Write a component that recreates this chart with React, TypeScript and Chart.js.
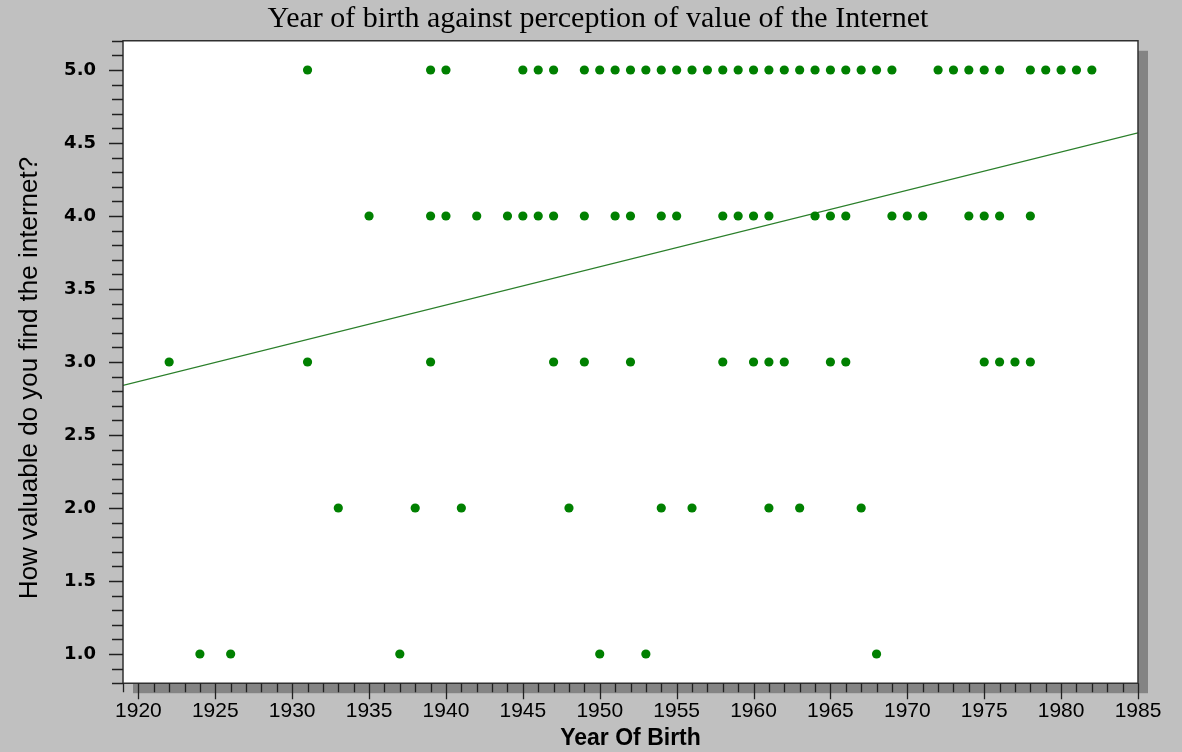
import React, { useEffect, useRef } from "react";
import { Chart, registerables } from "chart.js";

Chart.register(...registerables);

// Data
const YEARS_RATED_5 = [
  1931, 1939, 1940, 1945, 1946, 1947, 1949, 1950, 1951, 1952, 1953, 1954, 1955,
  1956, 1957, 1958, 1959, 1960, 1961, 1962, 1963, 1964, 1965, 1966, 1967, 1968,
  1969, 1972, 1973, 1974, 1975, 1976, 1978, 1979, 1980, 1981, 1982,
];
const YEARS_RATED_4 = [
  1935, 1939, 1940, 1942, 1944, 1945, 1946, 1947, 1949, 1951, 1952, 1954, 1955,
  1958, 1959, 1960, 1961, 1964, 1965, 1966, 1969, 1970, 1971, 1974, 1975, 1976,
  1978,
];
const YEARS_RATED_3 = [
  1922, 1931, 1939, 1947, 1949, 1952, 1958, 1960, 1961, 1962, 1965, 1966, 1975,
  1976, 1977, 1978,
];
const YEARS_RATED_2 = [1933, 1938, 1941, 1948, 1954, 1956, 1961, 1963, 1967];
const YEARS_RATED_1 = [1924, 1926, 1937, 1950, 1953, 1968];

const RATING_ROWS = [5, 4, 3, 2, 1];
const YEARS_BY_ROW = [YEARS_RATED_5, YEARS_RATED_4, YEARS_RATED_3, YEARS_RATED_2, YEARS_RATED_1];

// Fitted line end points
const TREND_X = [1919, 1985];
const TREND_Y = [2.84, 4.57];

// Axis tick labels
const X_TICK_LABELS = [1920, 1925, 1930, 1935, 1940, 1945, 1950, 1955, 1960, 1965, 1970, 1975, 1980, 1985];
const Y_TICK_LABELS = [1.0, 1.5, 2.0, 2.5, 3.0, 3.5, 4.0, 4.5, 5.0];

const X_MIN = 1919;
const X_MAX = 1985;
const Y_MIN = 0.8;
const Y_MAX = 5.2;

const TITLE = "Year of birth against perception of value of the Internet";
const X_TITLE = "Year Of Birth";
const Y_TITLE = "How valuable do you find the internet?";

const GREEN = "#008000";

const framePlugin = {
  id: "frame",
  beforeDraw(chart: any) {
    const { ctx, chartArea: a } = chart;
    ctx.save();
    ctx.fillStyle = "#c0c0c0";
    ctx.fillRect(0, 0, chart.width, chart.height);
    // shadow
    ctx.fillStyle = "#848484";
    ctx.fillRect(a.left + 10, a.top + 10, a.right - a.left, a.bottom - a.top);
    // plot area
    ctx.fillStyle = "#ffffff";
    ctx.fillRect(a.left, a.top, a.right - a.left, a.bottom - a.top);
    ctx.restore();
  },
  afterDraw(chart: any) {
    const { ctx, chartArea: a, scales } = chart;
    const xs = scales.x;
    const ys = scales.y;
    ctx.save();
    ctx.strokeStyle = "#303030";
    ctx.lineWidth = 1.5;
    ctx.beginPath();
    ctx.rect(a.left, a.top, a.right - a.left, a.bottom - a.top);
    ctx.stroke();
    ctx.lineWidth = 1.3;
    ctx.strokeStyle = "#202020";
    ctx.beginPath();
    for (let i = Math.round(Y_MIN * 10); i <= Math.round(Y_MAX * 10); i++) {
      const py = Math.round(ys.getPixelForValue(i / 10)) + 0.5;
      const len = i % 5 === 0 ? 14 : 11;
      ctx.moveTo(a.left - len, py);
      ctx.lineTo(a.left, py);
    }
    for (let yr = X_MIN; yr <= X_MAX; yr++) {
      const px = Math.round(xs.getPixelForValue(yr)) + 0.5;
      const len = yr % 5 === 0 ? 16 : 9;
      ctx.moveTo(px, a.bottom);
      ctx.lineTo(px, a.bottom + len);
    }
    ctx.stroke();
    // y-axis title, placed as in the reference
    ctx.translate(30, 378);
    ctx.rotate(-Math.PI / 2);
    ctx.fillStyle = "#000";
    ctx.font = "26px 'Liberation Sans', Arial, sans-serif";
    ctx.textAlign = "center";
    ctx.textBaseline = "middle";
    ctx.fillText(Y_TITLE, 0, 0);
    ctx.restore();
  },
};

export default function App() {
  const canvasRef = useRef<HTMLCanvasElement | null>(null);

  useEffect(() => {
    document.body.style.margin = "0";
    const points: { x: number; y: number }[] = [];
    RATING_ROWS.forEach((r, i) => {
      YEARS_BY_ROW[i].forEach((yr) => points.push({ x: yr, y: r }));
    });
    const trend = TREND_X.map((x, i) => ({ x, y: TREND_Y[i] }));

    const chart = new Chart(canvasRef.current as HTMLCanvasElement, {
      type: "scatter",
      data: {
        datasets: [
          {
            data: points,
            backgroundColor: GREEN,
            borderColor: GREEN,
            pointRadius: 4.6,
            pointHoverRadius: 4.6,
            borderWidth: 0,
            order: 0,
          } as any,
          {
            type: "line",
            data: trend,
            borderColor: "#2a7f2a",
            borderWidth: 1.2,
            pointRadius: 0,
            fill: false,
            tension: 0,
            order: 1,
          } as any,
        ],
      },
      options: {
        animation: false,
        responsive: false,
        layout: { padding: { left: 14, right: 0, top: 0, bottom: 0 } },
        plugins: {
          legend: { display: false },
          tooltip: { enabled: false },
          title: {
            display: true,
            text: TITLE,
            color: "#000",
            font: { family: "'Liberation Serif', 'Times New Roman', serif", size: 30, weight: "normal" },
            padding: { top: 1, bottom: 3.8 },
          },
        },
        scales: {
          x: {
            type: "linear",
            min: X_MIN,
            max: X_MAX,
            grid: { display: false, drawTicks: false },
            border: { display: false },
            afterBuildTicks: (s: any) => {
              s.ticks = X_TICK_LABELS.map((v) => ({ value: v }));
            },
            ticks: {
              autoSkip: false,
              maxRotation: 0,
              color: "#000",
              padding: 15,
              font: { family: "'Liberation Sans', Arial, sans-serif", size: 21 },
              callback: (v: any) => String(v),
            },
            title: {
              display: true,
              text: X_TITLE,
              color: "#000",
              font: { family: "'Liberation Sans', Arial, sans-serif", size: 23, weight: "bold" },
              padding: { top: 0, bottom: 0 },
            },
            afterFit: (s: any) => {
              s.height = 68.8;
            },
          },
          y: {
            type: "linear",
            min: Y_MIN,
            max: Y_MAX,
            grid: { display: false, drawTicks: false },
            border: { display: false },
            afterBuildTicks: (s: any) => {
              s.ticks = Y_TICK_LABELS.map((v) => ({ value: v }));
            },
            ticks: {
              autoSkip: false,
              color: "#000",
              padding: 27,
              font: { family: "'DejaVu Sans', sans-serif", size: 18, weight: "bold" },
              callback: (v: any) => Number(v).toFixed(1),
            },
            title: { display: false },
            afterFit: (s: any) => {
              s.width = 109;
            },
          },
          yRight: {
            type: "linear",
            position: "right",
            display: true,
            min: Y_MIN,
            max: Y_MAX,
            grid: { display: false, drawTicks: false },
            border: { display: false },
            ticks: { display: false },
            afterFit: (s: any) => {
              s.width = 44;
            },
          },
        },
      },
      plugins: [framePlugin],
    });
    return () => chart.destroy();
  }, []);

  return (
    <div style={{ position: "absolute", left: 0, top: 0, width: 1182, height: 752, background: "#c0c0c0" }}>
      <canvas ref={canvasRef} width={1182} height={752} />
    </div>
  );
}
